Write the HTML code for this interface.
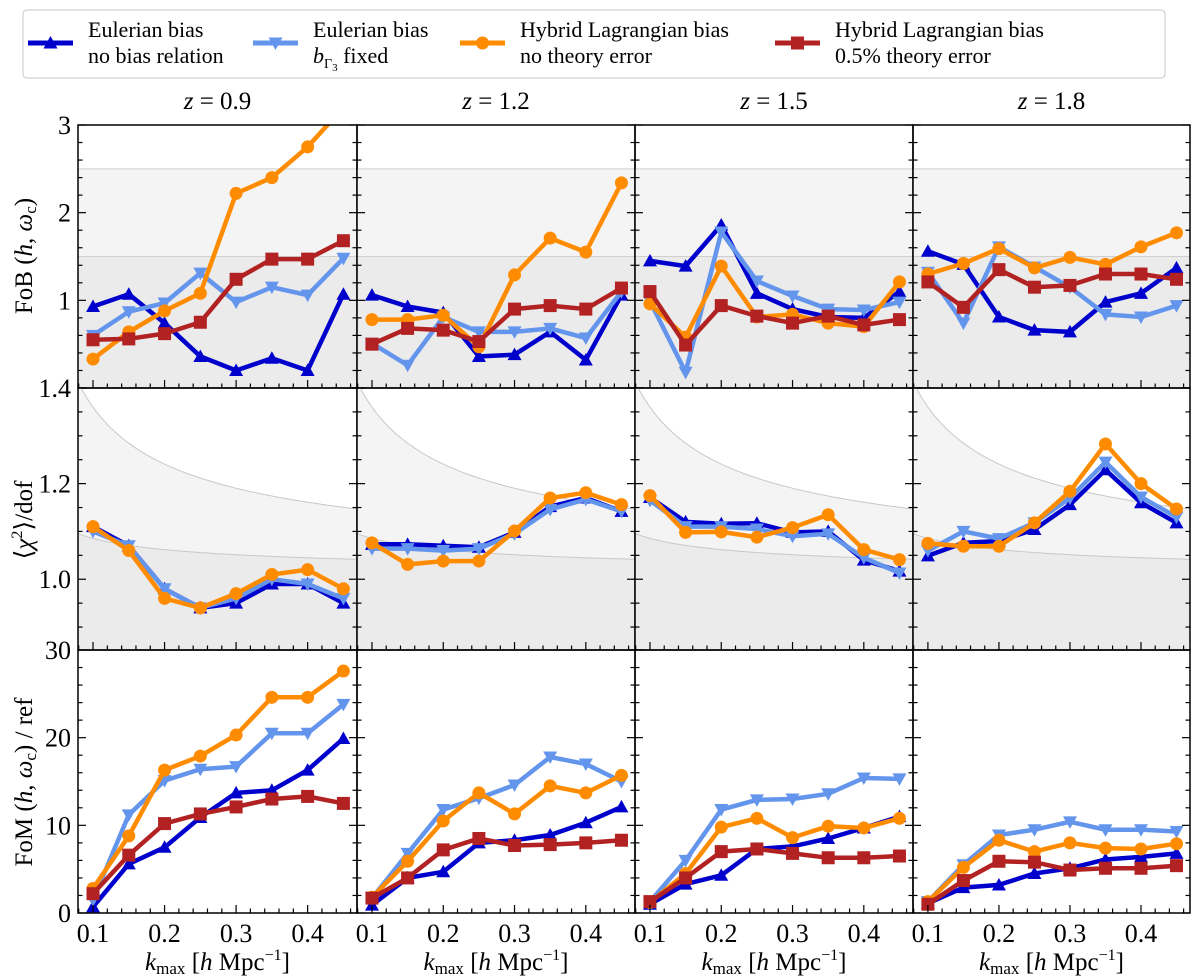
<!DOCTYPE html>
<html><head><meta charset="utf-8"><style>
body{margin:0;background:#fff;}
svg{display:block;}
text{font-family:"Liberation Serif","DejaVu Serif",serif;}
</style></head><body>
<svg id="fig" width="1200" height="980" viewBox="0 0 1200 980" xmlns="http://www.w3.org/2000/svg" font-family="Liberation Serif, serif"></svg>
<script>
const kValues=[0.1,0.15,0.2,0.25,0.3,0.35,0.4,0.45];
const redshifts=["0.9","1.2","1.5","1.8"];
const seriesNames=["eulerian-no-relation","eulerian-bg3-fixed","hybrid-no-error","hybrid-half-percent-error"];
const fobEulNoRel=[[0.93,1.07,0.74,0.36,0.20,0.34,0.20,1.07],[1.06,0.93,0.86,0.36,0.38,0.64,0.32,1.06],[1.45,1.39,1.86,1.08,0.90,0.81,0.80,1.10],[1.56,1.41,0.81,0.66,0.64,0.98,1.08,1.37]];
const fobEulFixed=[[0.60,0.87,0.97,1.31,0.98,1.15,1.06,1.48],[0.51,0.26,0.81,0.64,0.64,0.68,0.57,1.10],[0.99,0.18,1.78,1.22,1.05,0.90,0.89,0.98],[1.32,0.74,1.61,1.38,1.15,0.84,0.81,0.94]];
const fobHybNoErr=[[0.33,0.64,0.88,1.08,2.22,2.40,2.75,3.2],[0.78,0.78,0.83,0.47,1.29,1.71,1.55,2.34],[0.96,0.58,1.39,0.81,0.84,0.74,0.70,1.21],[1.30,1.42,1.59,1.37,1.49,1.41,1.61,1.77]];
const fobHybErr=[[0.55,0.56,0.62,0.75,1.24,1.47,1.47,1.68],[0.50,0.68,0.66,0.53,0.90,0.94,0.90,1.14],[1.10,0.49,0.94,0.82,0.74,0.82,0.72,0.78],[1.21,0.92,1.35,1.15,1.17,1.30,1.30,1.24]];
const chiEulNoRel=[[1.11,1.07,0.98,0.94,0.95,0.99,0.99,0.95],[1.073,1.073,1.070,1.067,1.098,1.152,1.170,1.142],[1.171,1.12,1.116,1.117,1.098,1.10,1.04,1.017],[1.049,1.076,1.08,1.104,1.156,1.229,1.16,1.118]];
const chiEulFixed=[[1.10,1.07,0.98,0.94,0.96,1.00,0.99,0.96],[1.064,1.064,1.06,1.064,1.095,1.146,1.167,1.142],[1.165,1.11,1.11,1.105,1.09,1.095,1.045,1.013],[1.06,1.10,1.085,1.118,1.17,1.245,1.172,1.13]];
const chiHybNoErr=[[1.11,1.06,0.96,0.94,0.97,1.01,1.02,0.98],[1.076,1.031,1.038,1.038,1.101,1.170,1.181,1.156],[1.175,1.098,1.099,1.088,1.108,1.135,1.062,1.041],[1.075,1.069,1.069,1.118,1.184,1.283,1.20,1.147]];
const fomEulNoRel=[[0.7,5.6,7.5,10.9,13.7,14.0,16.3,19.9],[0.9,4.0,4.7,8.0,8.3,8.9,10.3,12.1],[1.0,3.3,4.3,7.3,7.6,8.5,9.7,11.0],[1.1,2.9,3.2,4.5,5.1,6.1,6.4,6.8]];
const fomEulFixed=[[1.5,11.2,15.1,16.4,16.7,20.5,20.5,23.8],[1.7,6.8,11.8,13.1,14.6,17.8,17.0,15.0],[1.3,6.0,11.8,12.9,13.0,13.6,15.4,15.3],[1.3,5.5,8.9,9.5,10.4,9.5,9.5,9.3]];
const fomHybNoErr=[[2.8,8.8,16.3,17.9,20.3,24.6,24.6,27.6],[1.8,5.9,10.5,13.7,11.3,14.5,13.7,15.7],[1.2,4.5,9.8,10.8,8.6,9.9,9.7,10.8],[1.3,5.2,8.3,7.0,8.0,7.4,7.3,7.9]];
const fomHybErr=[[2.2,6.6,10.2,11.3,12.1,13.0,13.3,12.5],[1.7,4.0,7.2,8.5,7.7,7.8,8.0,8.3],[1.3,4.0,7.0,7.3,6.8,6.3,6.3,6.5],[1.0,3.7,5.9,5.8,4.9,5.1,5.1,5.4]];
const xTickLabels=["0.1","0.2","0.3","0.4"];
const fobTicks=[1,2,3];
const chiTicks=[1.0,1.2,1.4];
const fomTicks=[0,10,20,30];

const NS="http://www.w3.org/2000/svg";
const FF='"Liberation Serif", "DejaVu Serif", serif';
const svg=document.getElementById('fig');
function el(tag,attrs,parent){const e=document.createElementNS(NS,tag);for(const k in attrs)e.setAttribute(k,attrs[k]);if(tag==='text')e.style.fontFamily=FF;(parent||svg).appendChild(e);return e;}
const colX=[78,357,635,913],panelW=[279,278,278,277];
const rowY=[125,388,650],rowH=[263,262,263];
const xMin=0.079,xMax=0.469;
const rows=[{min:0,max:3,minor:0.2,major:1,ticks:fobTicks,fmt:v=>String(v)},{min:0.852,max:1.4,minor:0.05,major:0.2,ticks:chiTicks,fmt:v=>v.toFixed(1)},{min:0,max:30,minor:2,major:10,ticks:fomTicks,fmt:v=>String(v)}];
const colors={"eulerian-no-relation":"#0000cd","eulerian-bg3-fixed":"#6495ed","hybrid-no-error":"#ff8c00","hybrid-half-percent-error":"#b22222"};
const markers={"eulerian-no-relation":"up","eulerian-bg3-fixed":"down","hybrid-no-error":"circle","hybrid-half-percent-error":"square"};
function marker(type,x,y,c,g){
  let m;
  if(type==="up")m=el('polygon',{points:`${x},${y-7} ${x-7},${y+5.5} ${x+7},${y+5.5}`,fill:c},g);
  else if(type==="down")m=el('polygon',{points:`${x},${y+7} ${x-7},${y-5.5} ${x+7},${y-5.5}`,fill:c},g);
  else if(type==="circle")m=el('circle',{cx:x,cy:y,r:6.5,fill:c},g);
  else m=el('rect',{x:x-6.5,y:y-6.5,width:13,height:13,fill:c},g);
  
  
}
const rowData=[[fobEulNoRel,fobEulFixed,fobHybNoErr,fobHybErr],[chiEulNoRel,chiEulFixed,chiHybNoErr],[fomEulNoRel,fomEulFixed,fomHybNoErr,fomHybErr]];
const rowNames=["fob","chi2","fom"];
const defs=el('defs',{});
for(let r=0;r<3;r++)for(let c=0;c<4;c++){
  const X0=colX[c],W=panelW[c],Y0=rowY[r],H=rowH[r],R=rows[r];
  const sx=v=>X0+(v-xMin)/(xMax-xMin)*W;
  const sy=v=>Y0+H-(v-R.min)/(R.max-R.min)*H;
  const cid=`clip${r}${c}`;
  const cp=el('clipPath',{id:cid},defs);el('rect',{x:X0,y:Y0,width:W,height:H},cp);
  const g=el('g',{'clip-path':`url(#${cid})`});
  
  
  if(r===0){
    el('rect',{x:X0,y:sy(2.5),width:W,height:sy(1.5)-sy(2.5),fill:'#f4f4f4'},g);
    el('rect',{x:X0,y:sy(1.5),width:W,height:sy(0)-sy(1.5),fill:'#ebebeb'},g);
    el('line',{x1:X0,x2:X0+W,y1:sy(2.5),y2:sy(2.5),stroke:'#cfcfcf','stroke-width':1},g);
    el('line',{x1:X0,x2:X0+W,y1:sy(1.5),y2:sy(1.5),stroke:'#cfcfcf','stroke-width':1},g);
  } else if(r===1){
    let up=[],lo=[];
    for(let k=0.075;k<=0.4701;k+=0.005){up.push([sx(k),sy(1+0.0947/Math.pow(k,0.58))]);lo.push([sx(k),sy(1+0.0293/Math.pow(k,0.465))]);}
    const P=a=>a.map(p=>p[0].toFixed(1)+','+p[1].toFixed(1)).join(' ');
    el('polygon',{points:P(up)+' '+P(lo.slice().reverse()),fill:'#f4f4f4'},g);
    el('polygon',{points:P(lo)+` ${X0+W},${Y0+H} ${X0},${Y0+H}`,fill:'#ebebeb'},g);
    el('polyline',{points:P(up),fill:'none',stroke:'#c8c8c8','stroke-width':1},g);
    el('polyline',{points:P(lo),fill:'none',stroke:'#c8c8c8','stroke-width':1},g);
  }
  rowData[r].forEach((arr,si)=>{
    const name=seriesNames[si],col=colors[name];
    const vals=arr[c];
    const sg=el('g',{},g);
    
    
    el('polyline',{points:vals.map((v,i)=>sx(kValues[i]).toFixed(1)+','+sy(v).toFixed(1)).join(' '),fill:'none',stroke:col,'stroke-width':4.5,'stroke-linejoin':'miter'},sg);
    vals.forEach((v,i)=>marker(markers[name],sx(kValues[i]),sy(v),col,sg));
  });
  el('rect',{x:X0,y:Y0,width:W,height:H,fill:'none',stroke:'#000','stroke-width':1.5});
  for(let k=0.08;k<0.4699;k+=0.02){
    const kk=Math.round(k*100)/100, maj=Math.abs(kk*10-Math.round(kk*10))<1e-6;
    const x=sx(kk);
    el('line',{x1:x,x2:x,y1:Y0+H,y2:Y0+H-(maj?8:4.5),stroke:'#000','stroke-width':1.2});
  }
  for(let i=0;i<200;i++){
    const v=Math.ceil(R.min/R.minor-1e-9)*R.minor+i*R.minor;
    if(v>R.max+1e-9)break;
    const maj=Math.abs(v/R.major-Math.round(v/R.major))<1e-6;
    const y=sy(v),L=maj?8:4.5;
    el('line',{x1:X0,x2:X0+L,y1:y,y2:y,stroke:'#000','stroke-width':1.2});
    el('line',{x1:X0+W,x2:X0+W-L,y1:y,y2:y,stroke:'#000','stroke-width':1.2});
  }
  if(c===0){
    R.ticks.forEach(v=>{const t=el('text',{x:X0-7,y:sy(v)+9,'text-anchor':'end','font-size':26});t.textContent=R.fmt(v);
      });
  }
  if(r===2){
    xTickLabels.forEach(s=>{const t=el('text',{x:sx(parseFloat(s)),y:Y0+H+29,'text-anchor':'middle','font-size':26});t.textContent=s;
      });
    const t=el('text',{x:X0+W/2,y:970,'text-anchor':'middle','font-size':25});
    t.innerHTML='<tspan font-style="italic">k</tspan><tspan font-size="17" dy="4">max</tspan><tspan dy="-4"> [</tspan><tspan font-style="italic">h</tspan><tspan> Mpc</tspan><tspan font-size="16" dy="-10">−1</tspan><tspan dy="10">]</tspan>';
    
  }
  if(r===0){
    const t=el('text',{x:X0+W/2,y:109,'text-anchor':'middle','font-size':25});
    t.innerHTML='<tspan font-style="italic">z</tspan> = '+redshifts[c];
    
  }
}
const yt=[['FoB (<tspan font-style="italic">h</tspan>, <tspan font-style="italic">ω</tspan><tspan font-size="17" dy="4">c</tspan><tspan dy="-4">)</tspan>',256,'fob-axis-title'],
['⟨<tspan font-style="italic">χ</tspan><tspan font-size="16" dy="-10">2</tspan><tspan dy="10">⟩/dof</tspan>',520,'chi2-axis-title'],
['FoM (<tspan font-style="italic">h</tspan>, <tspan font-style="italic">ω</tspan><tspan font-size="17" dy="4">c</tspan><tspan dy="-4">) / ref</tspan>',782,'fom-axis-title']];
yt.forEach(([h,y,n])=>{const t=el('text',{x:0,y:0,transform:`translate(32,${y}) rotate(-90)`,'text-anchor':'middle','font-size':25});t.innerHTML=h;
  });
const lg=el('g',{});


el('rect',{x:23,y:10,width:1142,height:68,rx:4,fill:'#fff',stroke:'#d0d0d0','stroke-width':1.2},lg);
const legendLabels=[["Eulerian bias","no bias relation"],["Eulerian bias","<tspan font-style='italic'>b</tspan><tspan font-size='14' dy='5'>Γ</tspan><tspan font-size='11' dy='3'>3</tspan><tspan dy='-8'> fixed</tspan>"],["Hybrid Lagrangian bias","no theory error"],["Hybrid Lagrangian bias","0.5% theory error"]];
const legX=[28,253,460,775];
seriesNames.forEach((n,i)=>{
  const eg=el('g',{},lg);
  
  
  el('line',{x1:legX[i],x2:legX[i]+45,y1:43,y2:43,stroke:colors[n],'stroke-width':5},eg);
  marker(markers[n],legX[i]+22.5,43,colors[n],eg);
  const t1=el('text',{x:legX[i]+60,y:37,'font-size':22},eg);t1.textContent=legendLabels[i][0];
  const t2=el('text',{x:legX[i]+60,y:63,'font-size':22},eg);t2.innerHTML=legendLabels[i][1];
});
</script>
</body></html>
